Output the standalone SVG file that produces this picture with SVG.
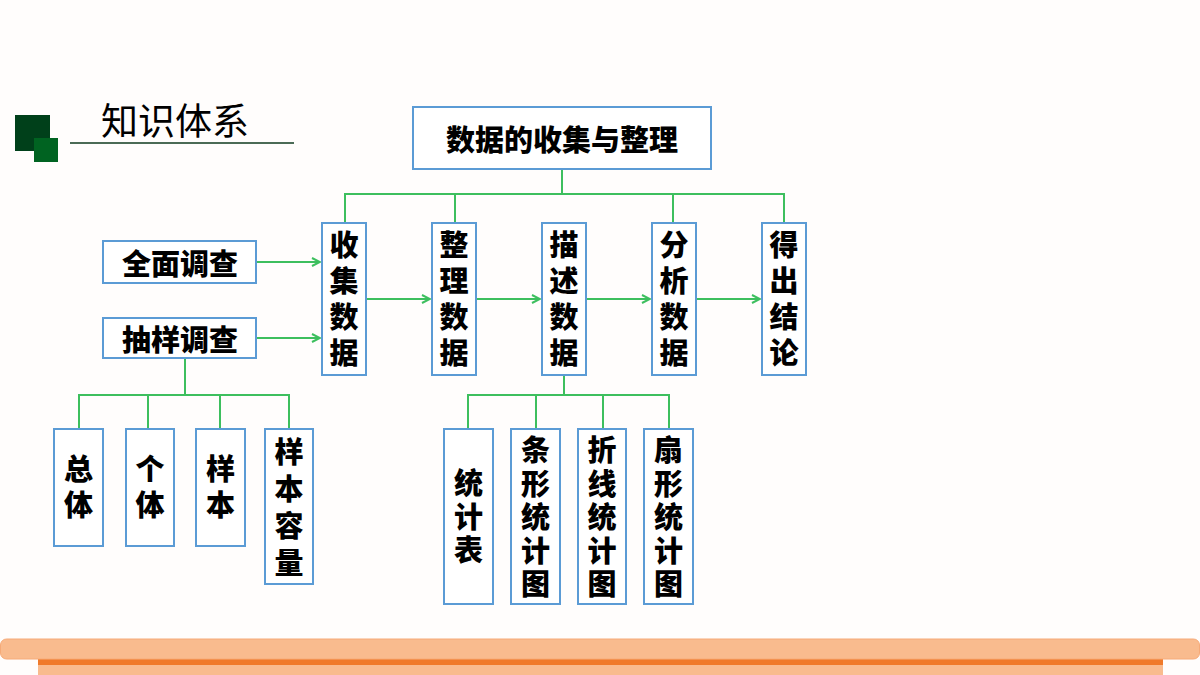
<svg xmlns="http://www.w3.org/2000/svg" width="1200" height="675" viewBox="0 0 1200 675">
<style>
.box{fill:#ffffff;stroke:#5b9bd5;stroke-width:2}
.t{font-family:"Noto Sans CJK SC","Noto Sans",sans-serif;font-weight:900;font-size:29px;fill:#000;text-anchor:middle;dominant-baseline:central}
.v{font-family:"Noto Sans CJK SC","Noto Sans",sans-serif;font-weight:900;font-size:29px;fill:#000;writing-mode:vertical-rl;text-anchor:start;dominant-baseline:central}
.s7{letter-spacing:7px}
.s45{letter-spacing:4.5px}
.s8{letter-spacing:8px}
.c{fill:none;stroke:#3dbf5e;stroke-width:2}
</style>
<defs>
<marker id="ah" viewBox="0 0 10 10" refX="9" refY="5" markerWidth="10" markerHeight="10" markerUnits="userSpaceOnUse" orient="auto">
<path d="M1,1 L9,5 L1,9" fill="none" stroke="#3dbf5e" stroke-width="2"/>
</marker>
</defs>
<rect width="1200" height="675" fill="#fffdfc"/>
<g id="header">
<rect x="15" y="115" width="35" height="36" fill="#00401a"/>
<rect x="34" y="138" width="24" height="24" fill="#006321"/>
<line x1="70" y1="143" x2="294" y2="143" stroke="#0f3a1f" stroke-width="1.5"/>
<text x="175" y="119" font-family="'Noto Sans CJK SC',sans-serif" font-size="37" text-anchor="middle" dominant-baseline="central" fill="#000">知识体系</text>
</g>
<g id="connectors">
<path class="c" d="M562,169 V194 M345,222 V194 H784 V222 M455,194 V222 M673,194 V222"/>
<line class="c" x1="256" y1="262" x2="320" y2="262" marker-end="url(#ah)"/>
<line class="c" x1="256" y1="338" x2="320" y2="338" marker-end="url(#ah)"/>
<line class="c" x1="366" y1="299" x2="430" y2="299" marker-end="url(#ah)"/>
<line class="c" x1="476" y1="299" x2="540" y2="299" marker-end="url(#ah)"/>
<line class="c" x1="586" y1="299" x2="650" y2="299" marker-end="url(#ah)"/>
<line class="c" x1="696" y1="299" x2="760" y2="299" marker-end="url(#ah)"/>
<path class="c" d="M185,358 V395 M79,429 V395 H289 V429 M148,395 V429 M220,395 V429"/>
<path class="c" d="M564,375 V395 M468,429 V395 H669 V429 M536,395 V429 M603,395 V429"/>
</g>
<g id="root">
<rect class="box" x="413" y="107" width="298" height="62"/>
<text class="t" x="562" y="138" font-size="30">数据的收集与整理</text>
</g>
<g id="quanmian">
<rect class="box" x="103" y="241" width="153" height="42"/>
<text class="t" x="180" y="262" font-size="30">全面调查</text>
</g>
<g id="chouyang">
<rect class="box" x="103" y="318" width="153" height="40"/>
<text class="t" x="180" y="338" font-size="30">抽样调查</text>
</g>
<g id="shouji">
<rect class="box" x="322" y="223" width="44" height="152"/>
<text class="v s7" x="344" y="230.5">收集数据</text>
</g>
<g id="zhengli">
<rect class="box" x="432" y="223" width="44" height="152"/>
<text class="v s7" x="454" y="230.5">整理数据</text>
</g>
<g id="miaoshu">
<rect class="box" x="542" y="223" width="44" height="152"/>
<text class="v s7" x="564" y="230.5">描述数据</text>
</g>
<g id="fenxi">
<rect class="box" x="652" y="223" width="44" height="152"/>
<text class="v s7" x="674" y="230.5">分析数据</text>
</g>
<g id="dechu">
<rect class="box" x="762" y="223" width="44" height="152"/>
<text class="v s7" x="784" y="230.5">得出结论</text>
</g>
<g id="zongti">
<rect class="box" x="54" y="429" width="49" height="117"/>
<text class="v s7" x="78.5" y="454.5">总体</text>
</g>
<g id="geti">
<rect class="box" x="126" y="429" width="48" height="117"/>
<text class="v s7" x="150" y="454.5">个体</text>
</g>
<g id="yangben">
<rect class="box" x="196" y="429" width="49" height="117"/>
<text class="v s7" x="220.5" y="454.5">样本</text>
</g>
<g id="rongliang">
<rect class="box" x="265" y="429" width="48" height="155"/>
<text class="v s8" x="289" y="437.5">样本容量</text>
</g>
<g id="tongjibiao">
<rect class="box" x="444" y="429" width="49" height="175"/>
<text class="v s45" x="468.5" y="468.5">统计表</text>
</g>
<g id="tiaoxing">
<rect class="box" x="511" y="429" width="49" height="175"/>
<text class="v s45" x="535.5" y="435.5">条形统计图</text>
</g>
<g id="zhexian">
<rect class="box" x="578" y="429" width="48" height="175"/>
<text class="v s45" x="602" y="435.5">折线统计图</text>
</g>
<g id="shanxing">
<rect class="box" x="644" y="429" width="49" height="175"/>
<text class="v s45" x="668.5" y="435.5">扇形统计图</text>
</g>
<g id="footer">
<rect x="38" y="659" width="1125" height="16" fill="#f9bb8e"/>
<rect x="38" y="659" width="1125" height="6" fill="#f07a2a"/>
<rect x="0.5" y="639" width="1199" height="20" rx="6" fill="#f9bb8e" stroke="#f6aa78" stroke-width="1"/>
</g>
</svg>
